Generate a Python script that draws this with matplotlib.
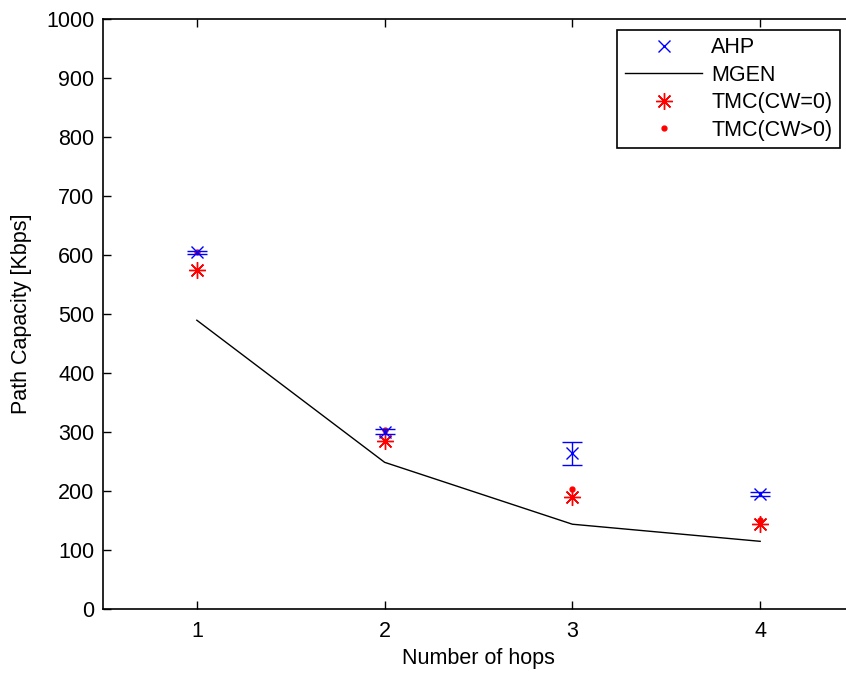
import matplotlib
matplotlib.use("Agg")
import matplotlib.pyplot as plt
from matplotlib.lines import Line2D

hops = [1, 2, 3, 4]
ahp = [604, 300, 263, 194]
ahp_err = [3, 4, 20, 3]
mgen = [489, 248, 143, 114]
tmc0 = [574, 285, 190, 143]
tmc_pos = [604, 302, 202, 151]
yticks = list(range(0, 1001, 100))

plt.rcParams['font.family'] = ['Liberation Sans', 'DejaVu Sans']
fig = plt.figure(figsize=(8.46, 6.73), dpi=100)
ax = fig.add_axes([0.1217, 0.0958, 0.8878, 0.876])

ax.errorbar(hops, ahp, yerr=ahp_err, fmt='x', color='blue', markersize=8,
            capsize=7, elinewidth=1, capthick=1, zorder=3)
ax.plot(hops, mgen, '-', color='black', linewidth=1)
ax.plot(hops, tmc0, linestyle='none', marker=(8, 2, 0), color='red',
        markersize=12, markeredgewidth=1)
ax.plot(hops, tmc_pos, linestyle='none', marker='.', color='red',
        markersize=7)

ax.set_xlim(0.5, 4.5)
ax.set_ylim(0, 1000)
ax.set_xticks(hops)
ax.set_yticks(yticks)
ax.tick_params(direction='in', labelsize=15.5, length=6, width=1, top=True, right=True)
ax.tick_params(axis='x', pad=9)
ax.tick_params(axis='y', pad=6)
for s in ax.spines.values():
    s.set_linewidth(1.2)
ax.set_xlabel('Number of hops', fontsize=15.5, labelpad=4)
ax.set_ylabel('Path Capacity [Kbps]', fontsize=15.5, labelpad=10)

handles = [
    Line2D([], [], linestyle='none', marker='x', color='blue', markersize=8),
    Line2D([], [], color='black', linewidth=1),
    Line2D([], [], linestyle='none', marker=(8, 2, 0), color='red', markersize=12, markeredgewidth=1),
    Line2D([], [], linestyle='none', marker='.', color='red', markersize=7),
]
labels = ['AHP', 'MGEN', 'TMC(CW=0)', 'TMC(CW>0)']
leg = ax.legend(handles, labels, loc='upper right', bbox_to_anchor=(0.981, 0.9815), fontsize=15.5,
                frameon=True, fancybox=False, edgecolor='black', framealpha=1,
                borderpad=0.35, labelspacing=0.3, handlelength=3.6, handletextpad=0.4,
                borderaxespad=0)
leg.get_frame().set_linewidth(1.2)

fig.savefig('out.png', dpi=100)
